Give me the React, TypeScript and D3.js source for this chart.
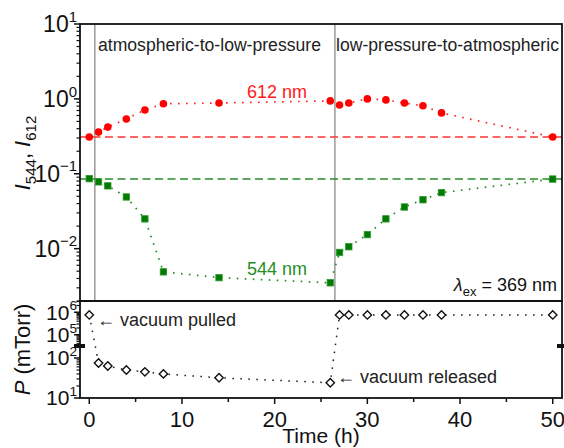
import React from "react";
import * as d3 from "d3";

const timeH = [0, 1, 2, 4, 6, 8, 14, 26, 27, 28, 30, 32, 34, 36, 38, 50];
const i612 = [0.31, 0.36, 0.42, 0.54, 0.71, 0.86, 0.88, 0.94, 0.83, 0.88, 1.0, 0.97, 0.88, 0.81, 0.65, 0.31];
const i544 = [0.086, 0.078, 0.069, 0.049, 0.025, 0.0049, 0.0041, 0.0035, 0.0089, 0.0106, 0.0154, 0.025, 0.036, 0.045, 0.056, 0.085];
const pressure = [760000, 75, 63, 50, 45, 40, 32, 24, 760000, 760000, 760000, 760000, 760000, 760000, 760000, 760000];
const ref612 = 0.31;
const ref544 = 0.085;
const switchTimes = [0.6, 26.5];
const xTicks = [0, 10, 20, 30, 40, 50];
const xMinorTicks = [5, 15, 25, 35, 45];
const upperExps = [1, 0, -1, -2];
const lowerLowExps = [1, 2];
const lowerHighExps = [5, 6];

const FONT = "'Liberation Sans', Arial, Helvetica, sans-serif";

export default function App() {
  const W = 564, H = 448;
  const L = 80, R = 562, T = 24, MID = 301, B = 398, BRK = 346;

  const x = d3.scaleLinear().domain([-1, 51]).range([L, R]);
  const yU = d3.scaleLog().domain([0.002, 10]).range([MID, T]);
  const yPlow = d3.scaleLog().domain([10, Math.pow(10, 2.3)]).range([B, BRK]);
  const yPhigh = d3.scaleLog().domain([Math.pow(10, 4.5), Math.pow(10, 6.5)]).range([BRK, MID]);
  const yP = (p: number) => (p > 1000 ? yPhigh(p) : yPlow(p));

  const line612 = d3.line<number>().x((_, i) => x(timeH[i])).y((d) => yU(d));
  const lineP = d3.line<number>().x((_, i) => x(timeH[i])).y((d) => yP(d));

  const upperMinor: number[] = [];
  for (let e = -3; e <= 0; e++) for (let m = 2; m <= 9; m++) {
    const v = m * Math.pow(10, e);
    if (v >= 0.002 && v <= 10) upperMinor.push(v);
  }
  const lowMinor: number[] = [];
  for (let m = 2; m <= 9; m++) lowMinor.push(m * 10);
  lowMinor.push(200);
  const highMinor: number[] = [];
  for (let e = 4; e <= 6; e++) for (let m = 2; m <= 9; m++) {
    const v = m * Math.pow(10, e);
    if (v >= Math.pow(10, 4.5) && v <= Math.pow(10, 6.5)) highMinor.push(v);
  }

  const dotted = "1.6 6.4";
  const dashed = "8 4.5";

  const diamond = (cx: number, cy: number, r: number) =>
    `M${cx},${cy - r}L${cx + r},${cy}L${cx},${cy + r}L${cx - r},${cy}Z`;

  const supLabel = (yy: number, exp: number, key: string, fs: number) => (
    <text key={key} x={L - 3} y={yy + fs * 0.35} textAnchor="end" fontSize={fs} fill="#111">
      10<tspan fontSize={fs * 0.65} dy={-fs * 0.45}>{exp < 0 ? "\u2212" + Math.abs(exp) : exp}</tspan>
    </text>
  );

  return (
    <svg width={W} height={H} style={{ position: "absolute", left: 0, top: 0, background: "#fff" }} fontFamily={FONT}>
      <rect width={W} height={H} fill="#fff" />
      {switchTimes.map((t) => (
        <line key={t} x1={x(t)} x2={x(t)} y1={T} y2={MID} stroke="#8a8a8a" strokeWidth={1.3} />
      ))}
      <line x1={L} x2={R} y1={yU(ref612)} y2={yU(ref612)} stroke="#ff3333" strokeWidth={1.5} strokeDasharray={dashed} />
      <line x1={L} x2={R} y1={yU(ref544)} y2={yU(ref544)} stroke="#2a8a2a" strokeWidth={1.5} strokeDasharray={dashed} />
      <path d={line612(i612) || ""} fill="none" stroke="#ff2020" strokeWidth={1.7} strokeDasharray={dotted} />
      <path d={line612(i544) || ""} fill="none" stroke="#1f8f1f" strokeWidth={1.7} strokeDasharray={dotted} />
      <path d={lineP(pressure) || ""} fill="none" stroke="#222" strokeWidth={1.5} strokeDasharray={dotted} />
      {i612.map((v, i) => (
        <circle key={"r" + i} cx={x(timeH[i])} cy={yU(v)} r={3.8} fill="#ff0000" />
      ))}
      {i544.map((v, i) => (
        <rect key={"g" + i} x={x(timeH[i]) - 3.2} y={yU(v) - 3.2} width={6.4} height={6.4} fill="#007a00" stroke="#2e9a2e" strokeWidth={0.8} />
      ))}
      {pressure.map((v, i) => (
        <path key={"p" + i} d={diamond(x(timeH[i]), yP(v), 4.2)} fill="#fff" stroke="#111" strokeWidth={1.4} />
      ))}
      <rect x={L} y={T} width={R - L} height={MID - T} fill="none" stroke="#111" strokeWidth={1.8} />
      <rect x={L} y={MID} width={R - L} height={B - MID} fill="none" stroke="#111" strokeWidth={1.8} />
      <rect x={L - 6} y={BRK - 2} width={11} height={4} fill="#111" />
      <rect x={R - 5} y={BRK - 2} width={8} height={4} fill="#111" />
      {xTicks.map((t) => (
        <g key={"xt" + t}>
          <line x1={x(t)} x2={x(t)} y1={B} y2={B + 6} stroke="#111" strokeWidth={1.5} />
          <text x={x(t)} y={B + 29} textAnchor="middle" fontSize={22} fill="#111">{t}</text>
        </g>
      ))}
      {xMinorTicks.map((t) => (
        <line key={"xm" + t} x1={x(t)} x2={x(t)} y1={B} y2={B + 4} stroke="#111" strokeWidth={1.5} />
      ))}
      {upperExps.map((e) => (
        <line key={"um" + e} x1={L - 6} x2={L} y1={yU(Math.pow(10, e))} y2={yU(Math.pow(10, e))} stroke="#111" strokeWidth={1.5} />
      ))}
      {upperMinor.map((v) => (
        <line key={"un" + v} x1={L - 3.5} x2={L} y1={yU(v)} y2={yU(v)} stroke="#111" strokeWidth={1.2} />
      ))}
      {upperExps.map((e) => supLabel(yU(Math.pow(10, e)), e, "ul" + e, 23))}
      {lowerLowExps.map((e) => (
        <line key={"lm" + e} x1={L - 6} x2={L} y1={yPlow(Math.pow(10, e))} y2={yPlow(Math.pow(10, e))} stroke="#111" strokeWidth={1.5} />
      ))}
      {lowMinor.map((v) => (
        <line key={"ln" + v} x1={L - 3.5} x2={L} y1={yPlow(v)} y2={yPlow(v)} stroke="#111" strokeWidth={1.2} />
      ))}
      {lowerHighExps.map((e) => (
        <line key={"hm" + e} x1={L - 6} x2={L} y1={yPhigh(Math.pow(10, e))} y2={yPhigh(Math.pow(10, e))} stroke="#111" strokeWidth={1.5} />
      ))}
      {highMinor.map((v) => (
        <line key={"hn" + v} x1={L - 3.5} x2={L} y1={yPhigh(v)} y2={yPhigh(v)} stroke="#111" strokeWidth={1.2} />
      ))}
      {lowerLowExps.map((e) => supLabel(yPlow(Math.pow(10, e)), e, "ll" + e, 21))}
      {lowerHighExps.map((e) => supLabel(yPhigh(Math.pow(10, e)), e, "hl" + e, 21))}
      <text transform={`translate(30,153) rotate(-90)`} textAnchor="middle" fontSize={22} fill="#111">
        <tspan fontStyle="italic">I</tspan>
        <tspan fontSize={15} dy={6}>544</tspan>
        <tspan dy={-6}>, </tspan>
        <tspan fontStyle="italic">I</tspan>
        <tspan fontSize={15} dy={6}>612</tspan>
      </text>
      <text transform={`translate(30,${(MID + B) / 2}) rotate(-90)`} textAnchor="middle" fontSize={22} fill="#111">
        <tspan fontStyle="italic">P</tspan> (mTorr)
      </text>
      <text x={(L + R) / 2} y={443} textAnchor="middle" fontSize={21} fill="#111">Time (h)</text>
      <text x={98} y={51} fontSize={17.6} fill="#222">atmospheric-to-low-pressure</text>
      <text x={336} y={51} fontSize={17.6} fill="#222">low-pressure-to-atmospheric</text>
      <text x={277} y={98} textAnchor="middle" fontSize={18} fill="#ff1a1a">612 nm</text>
      <text x={277} y={275} textAnchor="middle" fontSize={18} fill="#1f8f1f">544 nm</text>
      <text x={557} y={291} textAnchor="end" fontSize={18} fill="#111">
        <tspan fontStyle="italic">λ</tspan>
        <tspan fontSize={13} dy={5}>ex</tspan>
        <tspan dy={-5}> = 369 nm</tspan>
      </text>
      <text x={97} y={326} fontSize={18} fill="#222">← vacuum pulled</text>
      <text x={337} y={383} fontSize={18} fill="#222">← vacuum released</text>
    </svg>
  );
}
